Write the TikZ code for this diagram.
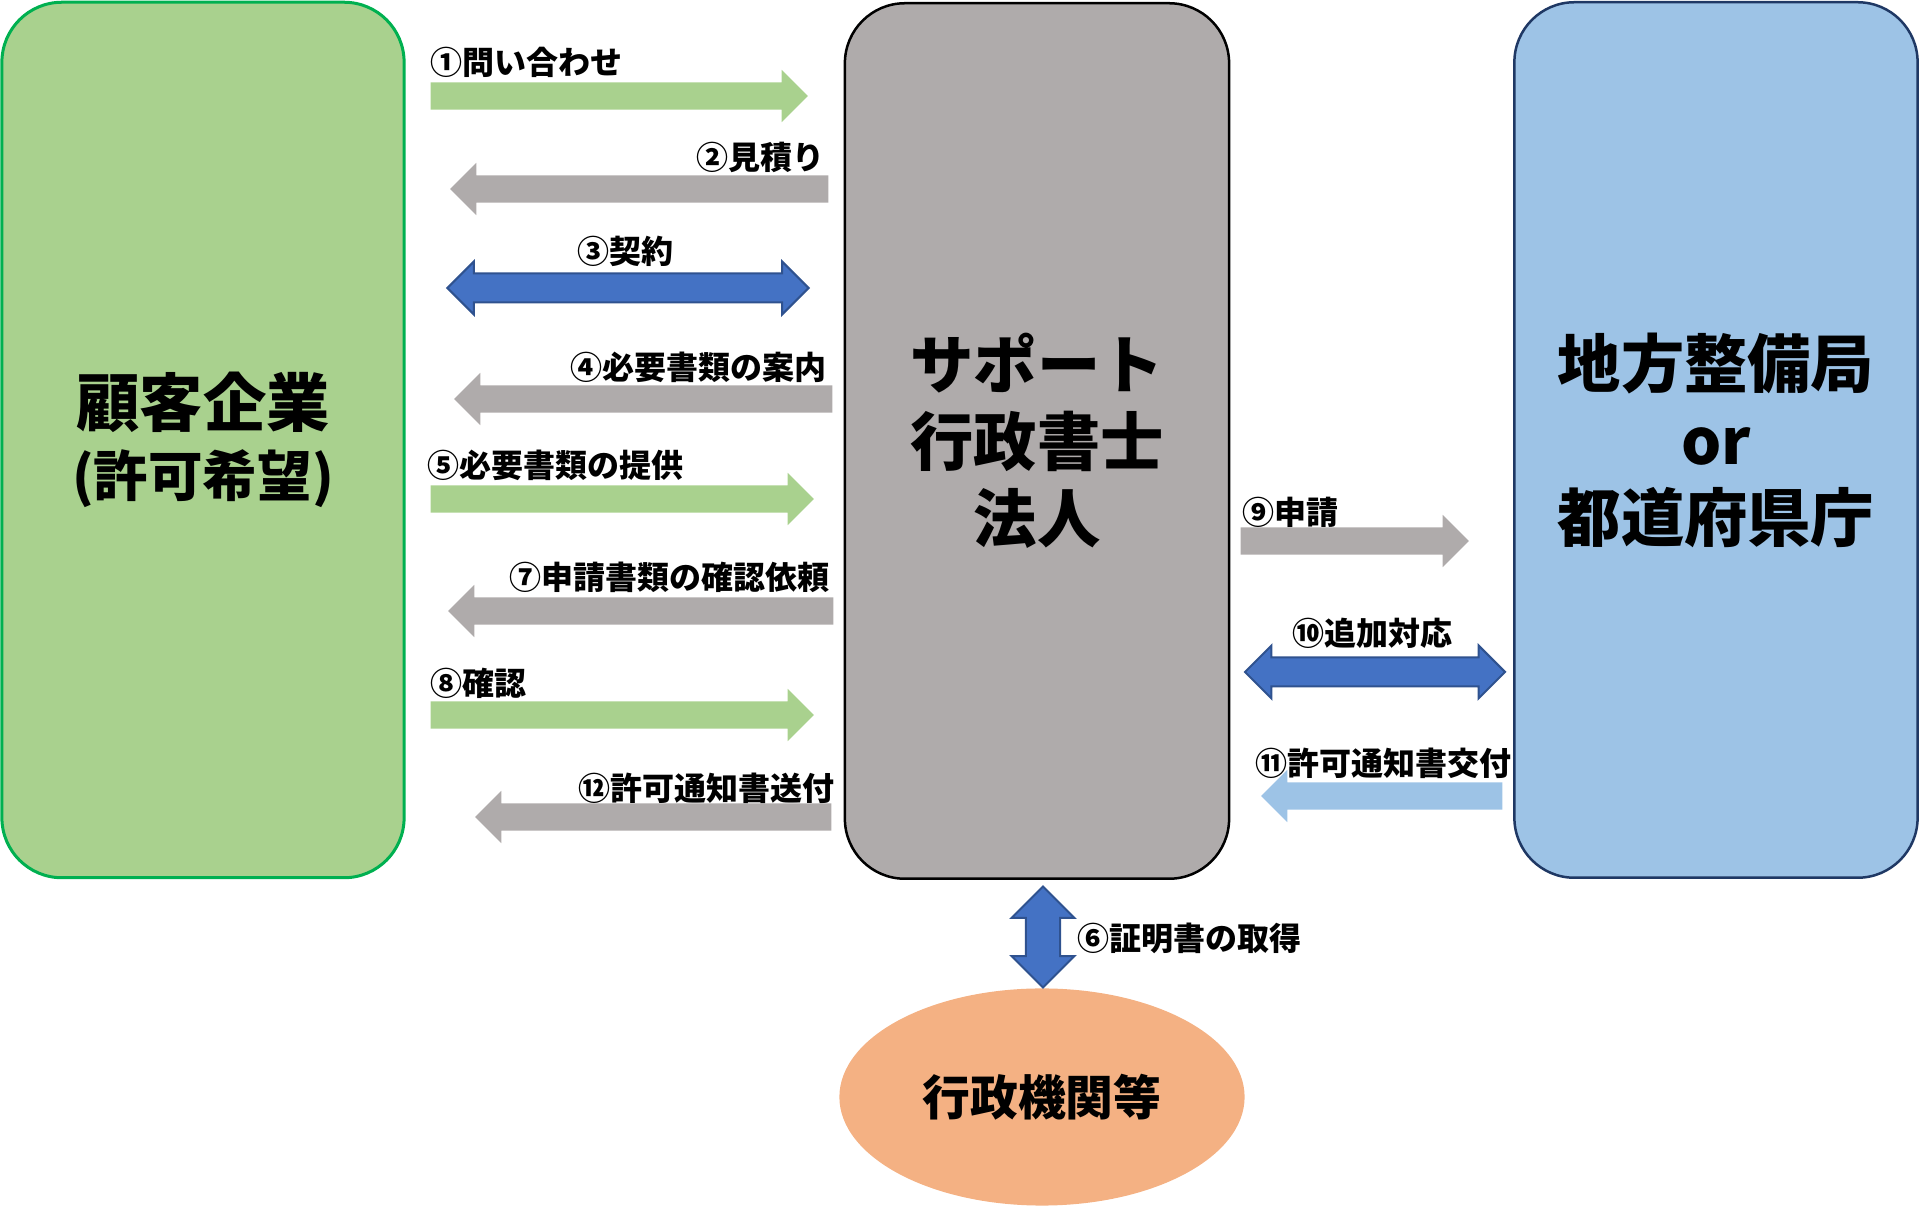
\documentclass[tikz,border=0pt]{standalone}
\usepackage{fontspec}
\setmainfont{Noto Sans CJK JP}
\usepackage{tikz}
\usetikzlibrary{shapes.geometric,shapes.arrows}

\definecolor{kgreen}{HTML}{A9D18E}
\definecolor{kgreenline}{HTML}{00B050}
\definecolor{kgray}{HTML}{AFABAB}
\definecolor{kblue}{HTML}{9DC3E6}
\definecolor{kblueline}{HTML}{1F3864}
\definecolor{kdeep}{HTML}{4472C4}
\definecolor{kdeepline}{HTML}{2F528F}
\definecolor{korange}{HTML}{F4B183}

\tikzset{
	party/.style={rectangle, rounded corners=0.6cm, minimum width=#1, minimum height=8.75cm, align=center, font=\fontsize{18}{21.9}\selectfont\bfseries},
	flow/.style={single arrow, single arrow head extend=0.125cm, inner xsep=0pt, inner ysep=0.13cm, anchor=tail},
	back/.style={flow, shape border rotate=180},
	both/.style={double arrow, double arrow head extend=0.12cm, inner xsep=0pt, inner ysep=0.135cm, fill=kdeep, draw=kdeepline, line width=0.02cm},
	lbl/.style={font=\fontsize{9.1}{11}\selectfont\bfseries, inner sep=0pt}
}

\begin{document}
\begin{tikzpicture}[x=0.01cm, y=-0.01cm]
	\useasboundingbox (0,0) rectangle (1920,1207);

	\node[party=4.02cm, fill=kgreen, draw=kgreenline, line width=0.03cm] (kyaku) at (203,440) {顧客企業\\[-2pt]{\fontsize{15.5}{18}\selectfont (許可希望)}};
	\node[party=3.84cm, fill=kgray, draw=black, line width=0.025cm] (shoshi) at (1037,441) {サポート\\行政書士\\法人};
	\node[party=4.03cm, fill=kblue, draw=kblueline, line width=0.025cm] (kyoku) at (1716,440) {地方整備局\\or\\都道府県庁};
	\node[ellipse, fill=korange, minimum width=4.05cm, minimum height=2.17cm, font=\fontsize{13.6}{16}\selectfont\bfseries] (kikan) at (1042,1097) {行政機関等};

	\node[flow, fill=kgreen, minimum height=3.77cm] (a1) at (430,96) {};
	\node[back, fill=kgray, minimum height=3.78cm] (a2) at (829,189) {};
	\node[both, minimum height=3.61cm] (a3) at (628,288) {};
	\node[back, fill=kgray, minimum height=3.78cm] (a4) at (833,399) {};
	\node[flow, fill=kgreen, minimum height=3.83cm] (a5) at (430,499) {};
	\node[both, minimum height=1.01cm, inner xsep=0.16cm, inner ysep=0pt, double arrow head extend=0.145cm, shape border rotate=90] (a6) at (1043,937) {};
	\node[back, fill=kgray, minimum height=3.85cm] (a7) at (834,611) {};
	\node[flow, fill=kgreen, minimum height=3.83cm] (a8) at (430,715) {};
	\node[flow, fill=kgray, minimum height=2.28cm] (a9) at (1240,541) {};
	\node[both, minimum height=2.60cm] (a10) at (1375,672) {};
	\node[back, fill=kblue, minimum height=2.41cm] (a11) at (1503,796) {};
	\node[back, fill=kgray, minimum height=3.56cm] (a12) at (832,817) {};

	\node[lbl, anchor=west] (l1) at (430,62) {①問い合わせ};
	\node[lbl, anchor=east] (l2) at (825,157) {②見積り};
	\node[lbl] (l3) at (625,251) {③契約};
	\node[lbl, anchor=east] (l4) at (827,367) {④必要書類の案内};
	\node[lbl, anchor=west] (l5) at (427,465) {⑤必要書類の提供};
	\node[lbl, anchor=west] (l6) at (1077,938) {⑥証明書の取得};
	\node[lbl, anchor=east] (l7) at (830,577) {⑦申請書類の確認依頼};
	\node[lbl, anchor=west] (l8) at (430,683) {⑧確認};
	\node[lbl, anchor=west] (l9) at (1242,512) {⑨申請};
	\node[lbl] (l10) at (1372,633) {⑩追加対応};
	\node[lbl, anchor=west] (l11) at (1255,763) {⑪許可通知書交付};
	\node[lbl, anchor=east] (l12) at (835,788) {⑫許可通知書送付};
\end{tikzpicture}
\end{document}
